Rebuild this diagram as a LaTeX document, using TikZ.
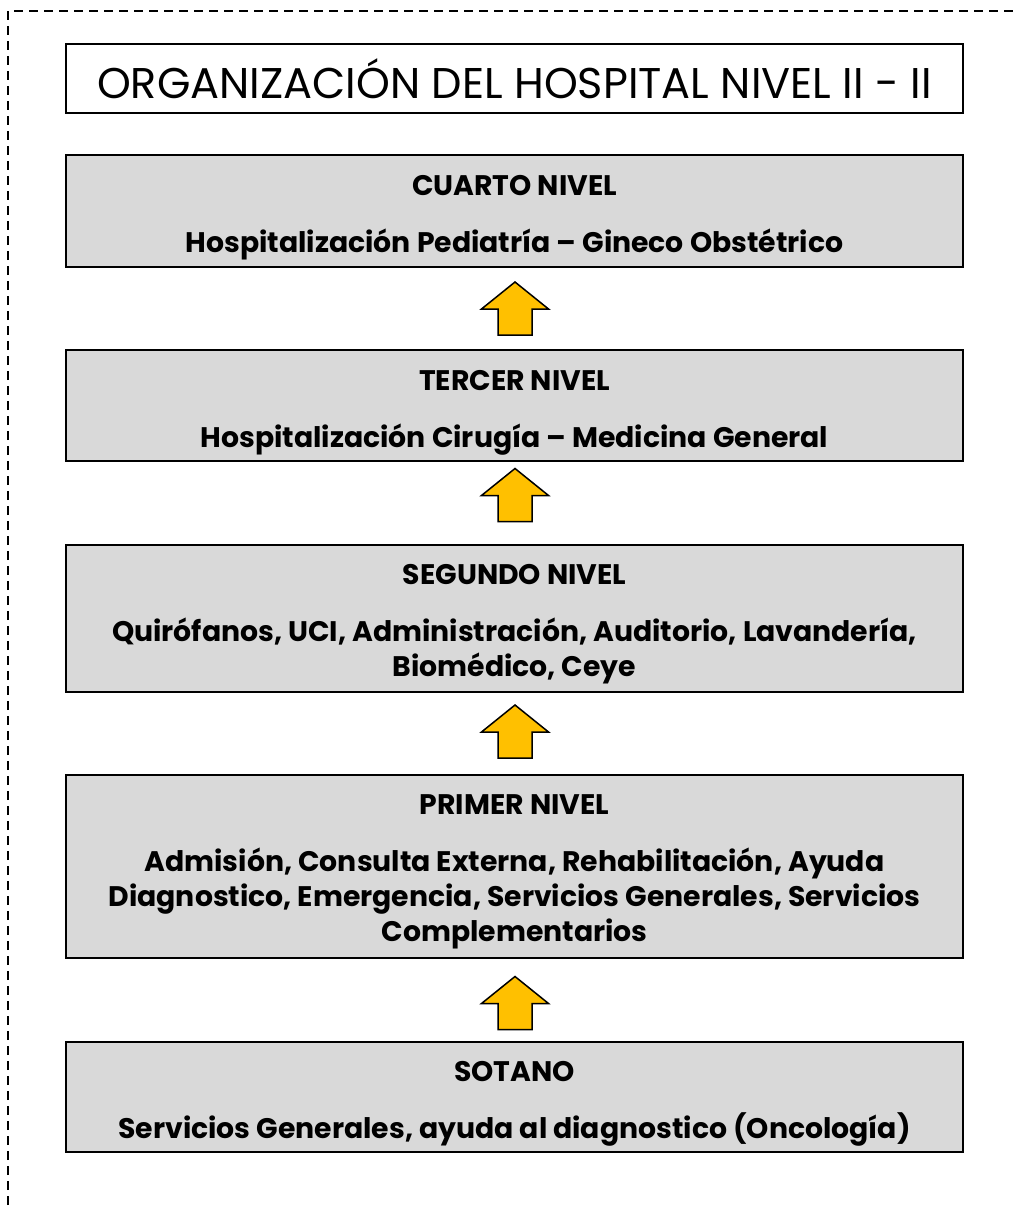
\documentclass[tikz,border=0pt]{standalone}
\usepackage{fontspec}
\setmainfont{Poppins}
\usetikzlibrary{calc}
\definecolor{boxgray}{HTML}{D9D9D9}
\definecolor{arrowgold}{HTML}{FFC000}
\tikzset{
  levelbox/.style={draw=black, line width=2pt, fill=boxgray, minimum width=897pt, inner sep=0pt},
  boxtext/.style={align=center, inner sep=0pt, font=\fontsize{28.3}{35}\selectfont\bfseries},
  titlebox/.style={draw=black, line width=2pt, fill=white, minimum width=897pt,
    minimum height=69pt, inner sep=0pt, font=\fontsize{43}{48}\selectfont},
  blockarrow/.style={draw=black, line width=1.5pt, fill=arrowgold, line join=miter}
}
\newcommand{\bodysz}{\fontsize{28.3}{35}\selectfont}
\newcommand{\uparrowat}[1]{%
  \draw[blockarrow] ($(#1)+(0,-26.5)$) -- ++(33.5,27) -- ++(-16.5,0) -- ++(0,26)
    -- ++(-34,0) -- ++(0,-26) -- ++(-16.5,0) -- cycle;}
\begin{document}
\begin{tikzpicture}[x=1pt,y=-1pt]
\useasboundingbox (0,0) rectangle (1012,1206);
\fill[white] (0,0) rectangle (1012,1206);
\coordinate (bl) at (8,1220);
\coordinate (tl) at (8,11);
\coordinate (tr) at (1030,11);
\draw[line width=1.8pt, dash pattern=on 9pt off 6pt] (bl) -- (tl) -- (tr);

\node[titlebox] (title) at (514.5,78.5) {ORGANIZACIÓN DEL HOSPITAL NIVEL II - II};

\node[levelbox, minimum height=112pt] (b4) at (514.5,211) {};
\node[boxtext] (t4) at ($(b4.center)+(0,7)$)
  {CUARTO NIVEL\\[22pt]{\bodysz Hospitalización Pediatría – Gineco Obstétrico}};
\node[levelbox, minimum height=111pt] (b3) at (514.5,405.5) {};
\node[boxtext] (t3) at ($(b3.center)+(0,7.5)$)
  {TERCER NIVEL\\[22pt]{\bodysz Hospitalización Cirugía – Medicina General}};
\node[levelbox, minimum height=147pt] (b2) at (514.5,618.5) {};
\node[boxtext] (t2) at ($(b2.center)+(0,6)$)
  {SEGUNDO NIVEL\\[22pt]{\bodysz Quirófanos, UCI, Administración, Auditorio, Lavandería,}\\{\bodysz Biomédico, Ceye}};
\node[levelbox, minimum height=183pt] (b1) at (514.5,866.5) {};
\node[boxtext] (t1) at ($(b1.center)+(0,5)$)
  {PRIMER NIVEL\\[22pt]{\bodysz Admisión, Consulta Externa, Rehabilitación, Ayuda}\\{\bodysz Diagnostico, Emergencia, Servicios Generales, Servicios}\\{\bodysz Complementarios}};
\node[levelbox, minimum height=110pt] (b0) at (514.5,1097) {};
\node[boxtext] (t0) at ($(b0.center)+(0,7)$)
  {SOTANO\\[22pt]{\bodysz Servicios Generales, ayuda al diagnostico (Oncología)}};

\coordinate (a1) at (515,308.5);
\coordinate (a2) at (515,495);
\coordinate (a3) at (515,731.5);
\coordinate (a4) at (515,1003);
\uparrowat{a1}
\uparrowat{a2}
\uparrowat{a3}
\uparrowat{a4}
\end{tikzpicture}
\end{document}
